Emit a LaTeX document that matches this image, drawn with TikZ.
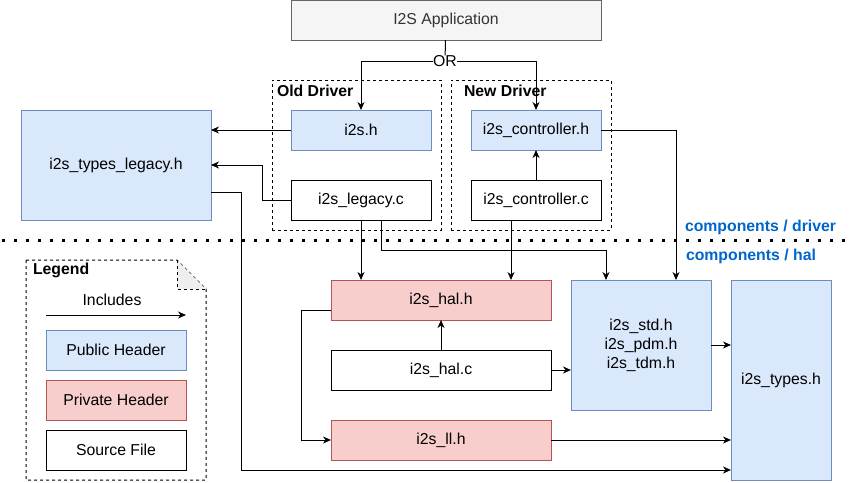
\documentclass[tikz,border=0pt]{standalone}
\usepackage{fontspec}
\setmainfont{Liberation Sans}
\usetikzlibrary{arrows.meta,positioning,calc}

\definecolor{pubfill}{HTML}{DAE8FC}
\definecolor{pubdraw}{HTML}{6C8EBF}
\definecolor{privfill}{HTML}{F8CECC}
\definecolor{privdraw}{HTML}{B85450}
\definecolor{appfill}{HTML}{F5F5F5}
\definecolor{appdraw}{HTML}{666666}
\definecolor{apptext}{HTML}{333333}
\definecolor{compblue}{HTML}{0066CC}
\definecolor{foldgray}{HTML}{EEEEEE}

\begin{document}
\begin{tikzpicture}[
  x=1pt, y=-1pt, line width=1pt,
  node distance=30pt,
  every node/.style={font=\fontsize{15.8}{19}\selectfont, outer sep=0pt},
  box/.style={draw, minimum width=140pt, minimum height=40pt, inner sep=2pt, align=center},
  pub/.style={box, fill=pubfill, draw=pubdraw},
  priv/.style={box, fill=privfill, draw=privdraw},
  src/.style={box, fill=white},
  grp/.style={draw, dash pattern=on 3pt off 3pt},
  ttl/.style={font=\bfseries\fontsize{15.8}{19}\selectfont, anchor=west, inner sep=0pt},
  arr/.style={-{Stealth[length=8pt,width=7pt,inset=2.5pt]}}
]
  \useasboundingbox (0,0) rectangle (854,482);

  \node[box, fill=appfill, draw=appdraw, text=apptext, minimum width=310pt] (app) at (446,20) {I2S Application};

  \node[grp, minimum width=169pt, minimum height=150pt] (olddrv) at (356.5,155) {};
  \node[grp, minimum width=160pt, minimum height=150pt] (newdrv) at (531,155) {};
  \node[ttl] (oldlbl) at (277,91) {Old Driver};
  \node[ttl] (newlbl) at (464,91) {New Driver};

  \node[pub] (ih) at (361,130) {i2s.h};
  \node[src, below=of ih] (legc) {i2s\_legacy.c};
  \node[pub, minimum width=130pt] (ctrlh) at (536,130) {i2s\_controller.h};
  \node[src, minimum width=130pt, below=of ctrlh] (ctrlc) {i2s\_controller.c};
  \node[pub, minimum width=190pt, minimum height=110pt] (typlegh) at (116,165) {i2s\_types\_legacy.h};

  \draw[line width=3pt, dash pattern=on 3pt off 9pt] (2,240) -- (854,240);
  \node[ttl, text=compblue] (drvlbl) at (685,227) {components / driver};
  \node[ttl, text=compblue] (hallbl) at (686,256) {components / hal};

  \node[priv, minimum width=220pt] (halh) at (441,300) {i2s\_hal.h};
  \node[src, minimum width=220pt, below=of halh] (halc) {i2s\_hal.c};
  \node[priv, minimum width=220pt, below=of halc] (llh) {i2s\_ll.h};
  \node[pub, minimum height=130pt] (stdh) at (641,345) {i2s\_std.h\\i2s\_pdm.h\\i2s\_tdm.h};
  \node[pub, minimum width=100pt, minimum height=200pt] (typesh) at (781,380) {i2s\_types.h};

  \draw[grp] (26,260) -- (177,260) -- (206,289) -- (206,480) -- (26,480) -- cycle;
  \draw[grp, fill=foldgray] (177,260) -- (177,289) -- (206,289);
  \node[ttl] (leglbl) at (33,270) {Legend};
  \node (inclbl) at (112,300) {Includes};
  \coordinate (incA) at (46,315);
  \coordinate (incB) at (186,315);
  \node[pub] (legpub) at (116,350) {Public Header};
  \node[priv, below=10pt of legpub] (legpriv) {Private Header};
  \node[src, below=10pt of legpriv] (legsrc) {Source File};
  \draw[arr] (incA) -- (incB);

  \node[fill=white, inner xsep=0pt, inner ysep=0pt] (or) at (445,61) {OR};
  \draw (app) -- (or);
  \draw[arr] (or.west) -| (ih.north);
  \draw[arr] (or.east) -| (ctrlh.north);

  \draw[arr] (ih.west) -- (ih.west -| typlegh.east);
  \draw[arr] (legc.west) -- ++(-29,0) |- (typlegh.east);
  \draw[arr] ($(typlegh.east)+(0,27)$) -- ++(30,0) |- ($(typesh.south west)+(0,-10)$);
  \draw[arr] (ctrlc) -- (ctrlh);
  \draw[arr] (ctrlh.east) -| ($(stdh.north)+(35,0)$);
  \draw[arr] (legc.south) -- (legc.south |- halh.north);
  \draw[arr] ($(legc.south)+(20,0)$) -- ++(0,30) -| ($(stdh.north)+(-35,0)$);
  \draw[arr] ($(ctrlc.south)+(-25,0)$) -- ($(halh.north)+(70,0)$);
  \draw[arr] (halc) -- (halh);
  \draw[arr] (halc) -- (halc -| stdh.west);
  \draw[arr] ($(halh.west)+(0,10)$) -- ++(-30,0) |- (llh.west);
  \draw[arr] (llh) -- (llh -| typesh.west);
  \draw[arr] (stdh) -- (stdh -| typesh.west);
\end{tikzpicture}
\end{document}
